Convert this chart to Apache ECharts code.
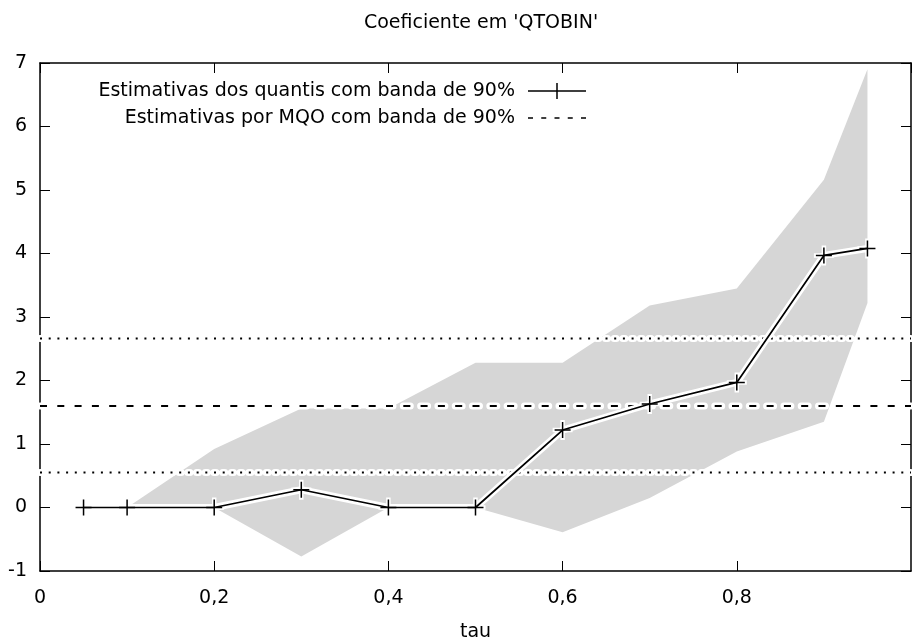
<!DOCTYPE html>
<html>
<head>
<meta charset="utf-8">
<script src="https://cdn.jsdelivr.net/npm/echarts@6/dist/echarts.min.js"></script>
<style>
  html, body { margin: 0; padding: 0; background: #fff; }
  #main { width: 913px; height: 643px; }
</style>
</head>
<body>
<div id="main"></div>
<script>
// dados
var tau      = [0.05, 0.1, 0.2, 0.3, 0.4, 0.5, 0.6, 0.7, 0.8, 0.9, 0.95];
var coef     = [0, 0, 0, 0.28, 0, 0, 1.22, 1.63, 1.97, 3.97, 4.08];
var bandLow  = [0, 0, 0, -0.77, 0, 0, -0.39, 0.15, 0.88, 1.35, 3.22];
var bandHigh = [0, 0, 0.92, 1.56, 1.56, 2.28, 2.28, 3.18, 3.45, 5.16, 6.90];
var olsCoef  = 1.60;
var olsLow   = 0.55;
var olsHigh  = 2.66;
var xTicks   = [0, 0.2, 0.4, 0.6, 0.8, 1];
var yTicks   = [-1, 0, 1, 2, 3, 4, 5, 6, 7];

var nomeQuant = 'Estimativas dos quantis com banda de 90%';
var nomeMQO   = 'Estimativas por MQO com banda de 90%';
var fonte = 'DejaVu Sans';
var tam = 19;

var mainChart = null;
var chartOpt = null;

function pares(xs, ys) {
	var out = [];
	for (var i = 0; i < xs.length; i++) out.push([xs[i], ys[i]]);
	return out;
}
function horizontal(v) {
	return [[xTicks[0], v], [xTicks[xTicks.length - 1], v]];
}

// poligono da banda: desenhado de uma vez no primeiro item
function desenhaBanda(params, api) {
	if (params.dataIndex !== 0) return null;
	var pts = [];
	for (var i = 0; i < tau.length; i++) pts.push(api.coord([tau[i], bandHigh[i]]));
	for (var j = tau.length - 1; j >= 0; j--) pts.push(api.coord([tau[j], bandLow[j]]));
	return {
		type: 'polygon',
		shape: { points: pts },
		style: { fill: '#d6d6d6', stroke: null }
	};
}

function initChart() {
	mainChart = echarts.init(document.getElementById('main'));

	var bandaDados = [];
	for (var i = 0; i < tau.length; i++) bandaDados.push([tau[i], bandLow[i], bandHigh[i]]);

	var plusPreto = 'path://M0,7.25h16v1.5H0z M7.25,0h1.5v16h-1.5z';
	var plusBranco = 'path://M0,7h18v4H0z M7,0h4v18H7z';
	var legQuant = 'path://M0,7.25h58v1.5H0z M28.25,0h1.5v16h-1.5z';
	var legMQO = 'path://M0,0L0,0 M58,16L58,16 M0,7.25h5v1.5H0z M13.25,7.25h5v1.5h-5z M26.5,7.25h5v1.5h-5z M39.75,7.25h5v1.5h-5z M53,7.25h5v1.5h-5z';

	var eixoX = {
		type: 'value', min: 0, max: 1, interval: 0.2,
		axisLine: { show: true, onZero: false, lineStyle: { color: '#000', width: 1.5 } },
		axisTick: { show: true, inside: true, length: 10, lineStyle: { color: '#000', width: 1 } },
		splitLine: { show: false }
	};
	var eixoY = {
		type: 'value', min: -1, max: 7, interval: 1,
		axisLine: { show: true, onZero: false, lineStyle: { color: '#000', width: 1.5 } },
		axisTick: { show: true, inside: true, length: 10, lineStyle: { color: '#000', width: 1 } },
		splitLine: { show: false }
	};

	chartOpt = {
		animation: false,
		backgroundColor: '#fff',
		textStyle: { fontFamily: fonte },
		title: {
			text: "Coeficiente em 'QTOBIN'",
			left: 476, top: 9, textAlign: 'center',
			textStyle: { fontFamily: fonte, fontWeight: 'normal', fontSize: tam, color: '#000' }
		},
		legend: {
			orient: 'vertical',
			right: 322, top: 76,
			align: 'right',
			itemWidth: 58, itemHeight: 16,
			itemGap: 7,
			selectedMode: false,
			textStyle: { fontFamily: fonte, fontSize: tam, color: '#000', padding: [0, 8, 0, 0], lineHeight: 20 },
			data: [
				{ name: nomeQuant, icon: legQuant, itemStyle: { color: '#000' } },
				{ name: nomeMQO, icon: legMQO, itemStyle: { color: '#000' } }
			]
		},
		grid: { left: 40, right: 2, top: 63, bottom: 72, containLabel: false, outerBoundsMode: 'none' },
		xAxis: [
			echarts.util.merge({
				position: 'bottom',
				name: 'tau', nameLocation: 'middle', nameGap: 52,
				nameTextStyle: { fontFamily: fonte, fontSize: tam, color: '#000' },
				axisLabel: {
					color: '#000', fontSize: tam, fontFamily: fonte, margin: 18,
					showMaxLabel: false,
					formatter: function (v) { return String(v).replace('.', ','); }
				}
			}, eixoX, true),
			echarts.util.merge({ position: 'top', axisLabel: { show: false } }, eixoX, true)
		],
		yAxis: [
			echarts.util.merge({
				position: 'left',
				axisLabel: { color: '#000', fontSize: tam, fontFamily: fonte, margin: 13 }
			}, eixoY, true),
			echarts.util.merge({ position: 'right', axisLabel: { show: false } }, eixoY, true)
		],
		series: [
			// banda de 90% dos quantis
			{
				type: 'custom', data: bandaDados, renderItem: desenhaBanda,
				encode: { x: 0, y: [1, 2] }, silent: true, z: 1
			},
			// linhas MQO: halo branco por baixo
			{
				type: 'line', data: horizontal(olsHigh), symbol: 'none', z: 2, silent: true,
				lineStyle: { color: '#fff', width: 7, type: [2, 6.7], cap: 'round' }
			},
			{
				type: 'line', data: horizontal(olsLow), symbol: 'none', z: 2, silent: true,
				lineStyle: { color: '#fff', width: 7, type: [2, 6.7], cap: 'round' }
			},
			{
				type: 'line', data: horizontal(olsCoef), symbol: 'none', z: 2, silent: true,
				lineStyle: { color: '#fff', width: 7, type: [7, 10.3], cap: 'round' }
			},
			{
				type: 'line', data: horizontal(olsHigh), symbol: 'none', z: 3, silent: true,
				lineStyle: { color: '#000', width: 2, type: [2, 6.7] }
			},
			{
				type: 'line', data: horizontal(olsLow), symbol: 'none', z: 3, silent: true,
				lineStyle: { color: '#000', width: 2, type: [2, 6.7] }
			},
			{
				name: nomeMQO, type: 'line', data: horizontal(olsCoef), symbol: 'none', z: 3, silent: true,
				itemStyle: { color: '#000' },
				lineStyle: { color: '#000', width: 2, type: [7, 10.3] }
			},
			// estimativas dos quantis
			{
				type: 'line', data: pares(tau, coef), z: 4, silent: true,
				symbol: plusBranco, symbolSize: 20, showAllSymbol: true,
				itemStyle: { color: '#fff' },
				lineStyle: { color: '#fff', width: 7 }
			},
			{
				name: nomeQuant, type: 'line', data: pares(tau, coef), z: 5, silent: true,
				symbol: plusPreto, symbolSize: 16, showAllSymbol: true,
				itemStyle: { color: '#000' },
				lineStyle: { color: '#000', width: 1.7 }
			}
		]
	};

	mainChart.setOption(chartOpt);
}

initChart();
</script>
</body>
</html>
